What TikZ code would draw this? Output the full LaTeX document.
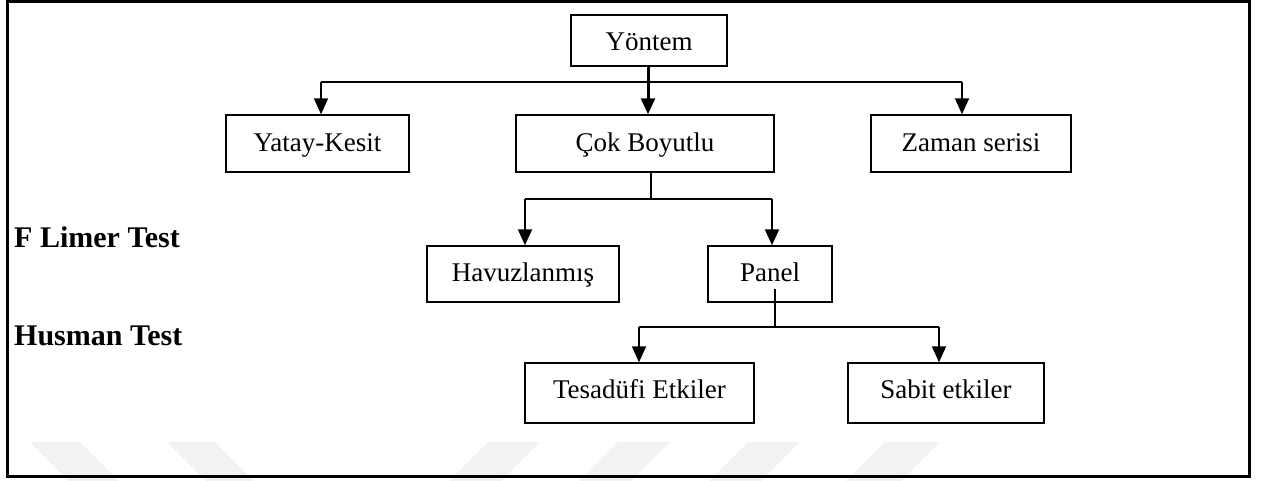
\documentclass[tikz,border=0pt]{standalone}
\usepackage{fontspec}
\setmainfont{Liberation Serif}
\usetikzlibrary{arrows.meta,calc}
\begin{document}
\begin{tikzpicture}[x=1pt,y=-1pt,
  box/.style={draw,line width=1.5pt,minimum width=#1,minimum height=57pt,inner sep=0pt,
    font=\fontsize{27}{32}\selectfont,text height=18.5pt,text depth=3.5pt},
  off/.style={text height={11pt+#1},text depth={11pt-#1}},
  conn/.style={line width=2pt},
  thinconn/.style={line width=1.2pt},
  arr/.style={line width=2pt,-{Triangle[length=16pt,width=14pt]}},
  lab/.style={anchor=base west,font=\fontsize{30}{34}\selectfont\bfseries,inner sep=0pt},
  wm/.style={fill=black!5,draw=none}]
\useasboundingbox (0,0) rectangle (1270,480);
% watermark
\begin{scope}
\clip (0,0) rectangle (1270,480);
\fill[wm] (30,442) -- (80,442) -- (128,490) -- (78,490) -- cycle;
\fill[wm] (167,442) -- (215,442) -- (263,490) -- (215,490) -- cycle;
\fill[wm] (488,442) -- (540,442) -- (492,490) -- (440,490) -- cycle;
\fill[wm] (618,442) -- (670,442) -- (622,490) -- (570,490) -- cycle;
\fill[wm] (748,442) -- (800,442) -- (752,490) -- (700,490) -- cycle;
\fill[wm] (885,442) -- (940,442) -- (892,490) -- (837,490) -- cycle;
\end{scope}
% frame
\draw[line width=3pt] (7,1.8) rectangle (1249,476);
% nodes
\node[box=156pt,minimum height=51pt,off=10pt] (yontem) at (649,40.5) {Yöntem};
\node[box=183pt,off=8pt] (yatay) at (317.5,143.5) {Yatay-Kesit};
\node[box=258pt,off=7.5pt] (cok) at (645,143.5) {Çok Boyutlu};
\node[box=200pt,off=7.5pt] (zaman) at (971,143.5) {Zaman serisi};
\node[box=192pt,minimum height=56pt,off=7pt] (havuz) at (523,274) {Havuzlanmış};
\node[box=124pt,minimum height=56pt,off=7pt] (panel) at (770,274) {Panel};
\node[box=229pt,minimum height=60pt,off=5.5pt] (tesadufi) at (639.5,393) {Tesadüfi Etkiler};
\node[box=196pt,minimum height=60pt,off=5.5pt] (sabit) at (946,393) {Sabit etkiler};
\node[lab] (flimer) at (14,247) {F Limer Test};
\node[lab] (husman) at (14,345) {Husman Test};
% level 1 connectors
\coordinate (bl) at (321,82);
\coordinate (br) at (962,82);
\coordinate (ys) at ($(yontem.south)+(-1,0)$);
\draw[conn] (bl) -- (br);
\draw[arr] (bl) -- (bl |- yatay.north);
\draw[arr] (br) -- (br |- zaman.north);
\draw[line width=3pt,-{Triangle[length=16pt,width=14pt]}] (ys) -- (ys |- cok.north);
% level 2 connectors
\coordinate (c2) at (651,199);
\coordinate (hl) at (525,199);
\coordinate (hr) at (772,199);
\draw[thinconn] (c2 |- cok.south) -- (c2);
\draw[conn] (hl) -- (hr);
\draw[arr] (hl) -- (hl |- havuz.north);
\draw[arr] (hr) -- (hr |- panel.north);
% level 3 connectors
\coordinate (p3) at (775,327);
\coordinate (ps) at ($(panel.south)+(5,-14)$);
\coordinate (tl) at (639,327);
\coordinate (tr) at (939,327);
\draw[thinconn] (ps) -- (p3);
\draw[conn] (tl) -- (tr);
\draw[arr] (tl) -- (tl |- tesadufi.north);
\draw[arr] (tr) -- (tr |- sabit.north);
\end{tikzpicture}
\end{document}
